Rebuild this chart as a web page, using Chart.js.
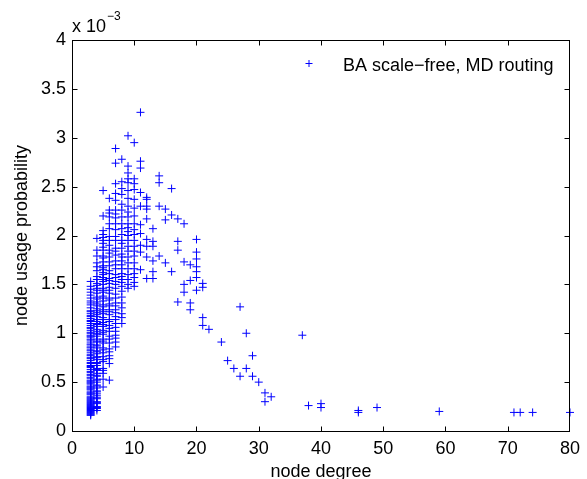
<!DOCTYPE html>
<html>
<head>
<meta charset="utf-8">
<title>node usage probability</title>
<script src="https://cdn.jsdelivr.net/npm/chart.js@4.4.1/dist/chart.umd.min.js"></script>
<style>
  html, body { margin: 0; padding: 0; background: #fff; }
  canvas { display: block; }
</style>
</head>
<body>
<canvas id="myChart" width="587" height="479"></canvas>
<script>
// usage probability in units of 1e-3, one list per node degree
var usage3 = [0.16, 0.17, 0.18, 0.19, 0.2, 0.21, 0.22, 0.23, 0.24, 0.25, 0.26, 0.27, 0.28, 0.29, 0.3, 0.31,
  0.32, 0.33, 0.34, 0.35, 0.37, 0.38, 0.39, 0.4, 0.42, 0.43, 0.44, 0.45, 0.46, 0.48, 0.49, 0.5, 0.51, 0.52,
  0.54, 0.55, 0.57, 0.58, 0.6, 0.61, 0.63, 0.65, 0.66, 0.67, 0.69, 0.7, 0.72, 0.74, 0.75, 0.77, 0.78, 0.8,
  0.82, 0.83, 0.85, 0.86, 0.88, 0.89, 0.91, 0.93, 0.94, 0.96, 0.97, 0.98, 1.0, 1.01, 1.03, 1.05, 1.06, 1.08,
  1.1, 1.12, 1.13, 1.15, 1.17, 1.18, 1.2, 1.22, 1.23, 1.26, 1.29, 1.31, 1.33, 1.36, 1.39, 1.42, 1.45, 1.48, 1.53];
var usage4 = [0.21, 0.23, 0.24, 0.25, 0.28, 0.29, 0.3, 0.33, 0.34, 0.36, 0.38, 0.4, 0.41, 0.44, 0.46, 0.47,
  0.5, 0.52, 0.53, 0.56, 0.57, 0.59, 0.62, 0.63, 0.64, 0.67, 0.69, 0.7, 0.73, 0.75, 0.76, 0.79, 0.81, 0.82,
  0.85, 0.87, 0.88, 0.91, 0.92, 0.94, 0.97, 0.99, 1.0, 1.02, 1.04, 1.07, 1.09, 1.1, 1.12, 1.14, 1.17, 1.19,
  1.21, 1.23, 1.25, 1.28, 1.3, 1.32, 1.35, 1.37, 1.41, 1.44, 1.46, 1.49, 1.51, 1.55, 1.58, 1.64, 1.68, 1.72,
  1.79, 1.85, 1.97];
var usage5 = [0.45, 0.53, 0.59, 0.62, 0.64, 0.71, 0.73, 0.76, 0.8, 0.83, 0.85, 0.9, 0.92, 0.94, 0.99, 1.01,
  1.03, 1.07, 1.09, 1.11, 1.14, 1.16, 1.2, 1.22, 1.24, 1.27, 1.29, 1.33, 1.36, 1.38, 1.42, 1.44, 1.46, 1.5,
  1.53, 1.55, 1.57, 1.6, 1.62, 1.65, 1.67, 1.69, 1.73, 1.77, 1.79, 1.85, 1.88, 1.92, 1.95, 1.98, 2.01, 2.05,
  2.2, 2.46];
var usage6 = [0.52, 0.69, 0.74, 0.77, 0.81, 0.84, 0.9, 0.94, 0.97, 1.02, 1.05, 1.08, 1.12, 1.14, 1.19, 1.22,
  1.24, 1.28, 1.3, 1.34, 1.36, 1.41, 1.44, 1.47, 1.51, 1.54, 1.56, 1.61, 1.64, 1.69, 1.73, 1.78, 1.82, 1.85,
  1.9, 1.95, 1.99, 2.07, 2.12, 2.19, 2.23, 2.26, 2.38];
var usage7 = [0.86, 0.91, 0.95, 0.98, 1.02, 1.06, 1.1, 1.14, 1.17, 1.21, 1.24, 1.28, 1.31, 1.36, 1.4, 1.46,
  1.5, 1.53, 1.57, 1.6, 1.66, 1.7, 1.74, 1.8, 1.84, 1.87, 1.95, 1.99, 2.06, 2.12, 2.18, 2.22, 2.26, 2.36,
  2.43, 2.53, 2.74, 2.89];
var usage8 = [1.1, 1.16, 1.2, 1.26, 1.31, 1.37, 1.43, 1.48, 1.52, 1.55, 1.58, 1.61, 1.66, 1.7, 1.74, 1.78,
  1.81, 1.87, 1.92, 1.95, 2.01, 2.07, 2.12, 2.19, 2.26, 2.32, 2.42, 2.48, 2.55, 2.78];
var usage9 = [1.46, 1.5, 1.55, 1.6, 1.66, 1.72, 1.78, 1.84, 1.89, 1.95, 2.0, 2.04, 2.08, 2.12, 2.19, 2.24,
  2.3, 2.38, 2.46, 2.54, 2.58, 2.64, 2.71, 3.02];
var usage10 = [1.48, 1.52, 1.57, 1.61, 1.66, 1.72, 1.79, 1.84, 1.89, 1.95, 2.01, 2.06, 2.12, 2.2, 2.28,
  2.37, 2.47, 2.53, 2.58, 2.95];
var usage11 = [1.65, 1.83, 1.9, 2.02, 2.11, 2.3, 2.44, 2.69, 2.76, 3.26];
var usage12 = [1.56, 1.78, 1.89, 1.96, 2.17, 2.27, 2.3, 2.37, 2.39];
var usage13 = [1.56, 1.63, 1.74, 1.89, 1.94, 2.07];

var denseDegrees = [3, 4, 5, 6, 7, 8, 9, 10, 11, 12, 13];
var denseUsage = [usage3, usage4, usage5, usage6, usage7, usage8, usage9, usage10, usage11, usage12, usage13];

// sparse high-degree nodes
var tailDegree = [14, 14, 14, 14, 15, 15, 15, 16, 16, 16, 17, 17, 17, 17, 18, 18, 18, 18, 19, 19, 19, 19,
  20, 20, 20, 20, 20, 20, 20, 21, 21, 21, 21, 22, 24, 25, 26, 27, 27, 28, 28, 29, 29, 30, 31, 31, 32,
  37, 38, 40, 40, 46, 46, 49, 59, 71, 72, 74, 80];
var tailUsage = [1.79, 2.3, 2.54, 2.61, 1.72, 2.16, 2.27, 1.63, 2.21, 2.48, 1.32, 1.85, 1.94, 2.17,
  1.42, 1.5, 1.73, 2.12, 1.24, 1.31, 1.54, 1.7, 1.44, 1.57, 1.63, 1.68, 1.76, 1.83, 1.96,
  1.08, 1.16, 1.47, 1.51, 1.04, 0.91, 0.72, 0.64, 0.56, 1.27, 0.64, 1.0, 0.56, 0.77, 0.5, 0.3, 0.39, 0.35,
  0.98, 0.26, 0.24, 0.28, 0.19, 0.21, 0.24, 0.2, 0.19, 0.19, 0.19, 0.19];

var xTicks = [0, 10, 20, 30, 40, 50, 60, 70, 80];
var yTicks = [0, 0.5, 1, 1.5, 2, 2.5, 3, 3.5, 4];
var legendLabel = 'BA scale\u2212free, MD routing';

var fontFamily = '"Liberation Sans", Arial, Helvetica, sans-serif';

function montaPontos() {
  var pontos = [];
  denseDegrees.forEach(function(d, i) {
    denseUsage[i].forEach(function(v) { pontos.push({ x: d, y: v }); });
  });
  tailDegree.forEach(function(d, i) { pontos.push({ x: d, y: tailUsage[i] }); });
  return pontos;
}

function desenhaCruz(ctx, x, y, r) {
  ctx.moveTo(x - r, y); ctx.lineTo(x + r, y);
  ctx.moveTo(x, y - r); ctx.lineTo(x, y + r);
}

// matlab style box, inward ticks, exponent label and legend
var moldura = {
  id: 'moldura',
  afterDraw: function(chart) {
    var ctx = chart.ctx;
    var a = chart.chartArea;
    var sx = chart.scales.x, sy = chart.scales.y;
    var L = Math.round(a.left) + 0.5, R = Math.round(a.right) - 0.5;
    var T = Math.round(a.top) + 0.5, B = Math.round(a.bottom) + 0.5;

    ctx.save();
    ctx.strokeStyle = '#000';
    ctx.lineWidth = 1;
    ctx.strokeRect(L, T, R - L, B - T);

    ctx.beginPath();
    xTicks.forEach(function(t) {
      var px = Math.round(sx.getPixelForValue(t)) + 0.5;
      if (t === 80) px = R;
      ctx.moveTo(px, B); ctx.lineTo(px, B - 5);
      ctx.moveTo(px, T); ctx.lineTo(px, T + 5);
    });
    yTicks.forEach(function(t) {
      var py = Math.round(sy.getPixelForValue(t)) + 0.5;
      ctx.moveTo(L, py); ctx.lineTo(L + 5, py);
      ctx.moveTo(R, py); ctx.lineTo(R - 5, py);
    });
    ctx.stroke();

    ctx.fillStyle = '#000';
    ctx.textAlign = 'left';
    ctx.textBaseline = 'alphabetic';
    ctx.font = '18px ' + fontFamily;
    ctx.fillText('x 10', 72, 32);
    ctx.font = '12px ' + fontFamily;
    ctx.fillText('\u22123', 107, 20);

    ctx.font = '18px ' + fontFamily;
    ctx.fillText(legendLabel, 343, 71);
    ctx.strokeStyle = '#0000ff';
    ctx.beginPath();
    desenhaCruz(ctx, 309, 63.5, 3.5);
    ctx.stroke();
    ctx.restore();
  }
};

Chart.defaults.font.family = fontFamily;
Chart.defaults.font.size = 18;
Chart.defaults.color = '#000';

var ctxChart = document.getElementById('myChart').getContext('2d');
var chart = new Chart(ctxChart, {
  type: 'scatter',
  data: {
    datasets: [{
      label: legendLabel,
      data: montaPontos(),
      pointStyle: 'cross',
      pointRadius: 4,
      pointHoverRadius: 4,
      borderColor: '#0000ff',
      backgroundColor: '#0000ff',
      borderWidth: 1,
      clip: false
    }]
  },
  options: {
    responsive: false,
    animation: false,
    devicePixelRatio: 1,
    events: [],
    layout: { padding: { top: 40, right: 15, bottom: 0, left: 0 } },
    plugins: {
      legend: { display: false },
      tooltip: { enabled: false }
    },
    scales: {
      x: {
        type: 'linear',
        min: 0,
        max: 80,
        afterBuildTicks: function(scale) { scale.ticks = xTicks.map(function(v) { return { value: v }; }); },
        afterFit: function(scale) { scale.height = 48; },
        ticks: { padding: 7, maxRotation: 0, font: { size: 18 }, callback: function(v) { return String(v); } },
        grid: { display: false, drawTicks: false },
        border: { display: false },
        title: { display: true, text: 'node degree', font: { size: 18, lineHeight: 1 }, padding: { top: 0, bottom: -2 } }
      },
      y: {
        type: 'linear',
        min: 0,
        max: 4,
        afterBuildTicks: function(scale) { scale.ticks = yTicks.map(function(v) { return { value: v }; }); },
        afterFit: function(scale) { scale.width = 72; },
        ticks: { padding: 6, font: { size: 18 }, callback: function(v) { return String(v); } },
        grid: { display: false, drawTicks: false },
        border: { display: false },
        title: { display: true, text: 'node usage probability', font: { size: 18, lineHeight: 1 }, padding: { top: 13, bottom: 0 } }
      }
    }
  },
  plugins: [moldura]
});
</script>
</body>
</html>
